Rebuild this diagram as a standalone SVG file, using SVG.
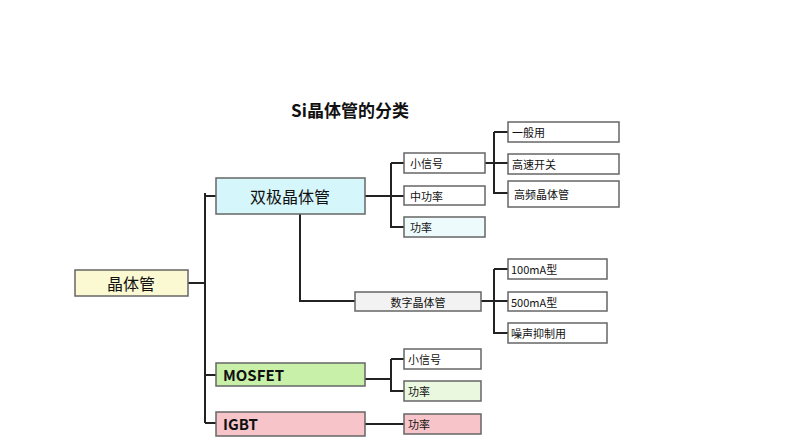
<svg xmlns="http://www.w3.org/2000/svg" width="793" height="440" viewBox="0 0 793 440">
<style>
rect{stroke:#666;stroke-width:1.5}
.w{fill:#fff}
text{font-family:"Noto Sans CJK SC","Liberation Sans",sans-serif;fill:#111;dominant-baseline:central}
.s{font-size:11px}
.b{font-size:15px;font-weight:bold}
.m{font-size:16px}
#c path{fill:none;stroke:#222;stroke-width:2}
</style>
<rect width="793" height="440" style="fill:#fff;stroke:none"/>
<text x="350" y="109" text-anchor="middle" style="font-size:17px;font-weight:bold">Si晶体管的分类</text>
<g id="c">
<path d="M188 283H205M205 193V423M205 196H216M205 375H216M205 423H216"/>
<path d="M365 196H404M391 163V227H404M391 163H404"/>
<path d="M485 163H508M494 132V193H508M494 132H508"/>
<path d="M300 214V301H355M481 301H508M494 269V333H508M494 269H508"/>
<path d="M365 379H391M391 359V391H404M391 359H404M365 424H404"/>
</g>
<g id="n0"><rect x="75" y="270" width="113" height="26" fill="#fbf9d2"/><text x="131" y="283" text-anchor="middle" class="m">晶体管</text></g>
<g id="n1"><rect x="216" y="178" width="149" height="36" fill="#d5f6fb"/><text x="290" y="196" text-anchor="middle" class="m">双极晶体管</text></g>
<g id="n2"><rect x="216" y="363" width="149" height="23" fill="#c8f0a8"/><text x="223" y="374" class="b">MOSFET</text></g>
<g id="n3"><rect x="216" y="412" width="149" height="24" fill="#f7c4ca"/><text x="223" y="423" class="b">IGBT</text></g>
<g id="n4"><rect x="404" y="153" width="81" height="20" class="w"/><text x="410" y="163" class="s">小信号</text></g>
<g id="n5"><rect x="404" y="186" width="81" height="19" class="w"/><text x="410" y="195.5" class="s">中功率</text></g>
<g id="n6"><rect x="404" y="217" width="81" height="20" fill="#eefbfd"/><text x="410" y="227" class="s">功率</text></g>
<g id="n7"><rect x="508" y="122" width="111" height="20" class="w"/><text x="512" y="132" class="s">一般用</text></g>
<g id="n8"><rect x="508" y="154" width="111" height="20" class="w"/><text x="512" y="164" class="s">高速开关</text></g>
<g id="n9"><rect x="508" y="181" width="111" height="26" class="w"/><text x="514" y="194" class="s">高频晶体管</text></g>
<g id="n10"><rect x="355" y="292" width="126" height="19" fill="#f2f2f2"/><text x="418" y="301.5" text-anchor="middle" class="s">数字晶体管</text></g>
<g id="n11"><rect x="508" y="259" width="99" height="20" class="w"/><text x="511" y="269" class="s">100mA型</text></g>
<g id="n12"><rect x="508" y="292" width="99" height="19" class="w"/><text x="511" y="301.5" class="s">500mA型</text></g>
<g id="n13"><rect x="508" y="323" width="99" height="20" class="w"/><text x="511" y="333" class="s">噪声抑制用</text></g>
<g id="n14"><rect x="404" y="349" width="77" height="20" class="w"/><text x="408" y="359" class="s">小信号</text></g>
<g id="n15"><rect x="404" y="381" width="77" height="20" fill="#eaf8e0"/><text x="408" y="391" class="s">功率</text></g>
<g id="n16"><rect x="404" y="414" width="77" height="20" fill="#f7c4ca"/><text x="408" y="424" class="s">功率</text></g>
</svg>
